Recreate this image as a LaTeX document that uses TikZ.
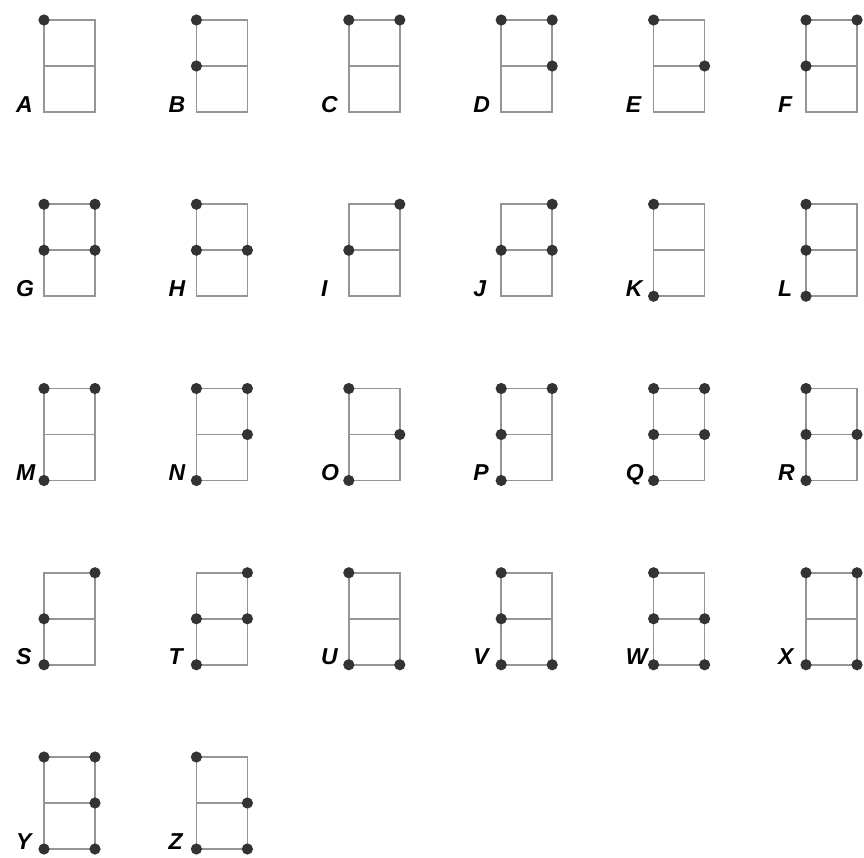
\documentclass[tikz,border=0pt]{standalone}
\usepackage{fontspec}
\setmainfont{Liberation Sans}
\definecolor{boxgray}{HTML}{959595}
\definecolor{dotgray}{HTML}{333333}
\tikzset{
  boxline/.style={draw=boxgray, line width=1.7pt},
  dotnode/.style={circle, fill=dotgray, inner sep=0pt, minimum size=11.2pt},
  lab/.style={font=\fontsize{23}{23}\selectfont\bfseries\itshape, text=black, inner sep=0pt, anchor=base west}
}
\newcommand\brcell[4]{%
  \pgfmathsetmacro\cx{44+152.4*#2}%
  \pgfmathsetmacro\cy{20+184.25*#3}%
  \coordinate (#1p1) at (\cx,\cy);
  \coordinate (#1p2) at (\cx,\cy+46);
  \coordinate (#1p3) at (\cx,\cy+92);
  \coordinate (#1p4) at (\cx+51,\cy);
  \coordinate (#1p5) at (\cx+51,\cy+46);
  \coordinate (#1p6) at (\cx+51,\cy+92);
  \draw[boxline] (#1p1) rectangle (#1p6);
  \draw[boxline] (#1p2) -- (#1p5);
  \foreach \k in {#4} {\node[dotnode] (#1d\k) at (#1p\k) {};}
  \node[lab] (#1lab) at (\cx-28,\cy+92) {#1};
}
\begin{document}
\begin{tikzpicture}[x=1pt,y=-1pt]
\useasboundingbox (0,0) rectangle (864,857);
\brcell{A}{0}{0}{1}
\brcell{B}{1}{0}{1,2}
\brcell{C}{2}{0}{1,4}
\brcell{D}{3}{0}{1,4,5}
\brcell{E}{4}{0}{1,5}
\brcell{F}{5}{0}{1,2,4}
\brcell{G}{0}{1}{1,2,4,5}
\brcell{H}{1}{1}{1,2,5}
\brcell{I}{2}{1}{2,4}
\brcell{J}{3}{1}{2,4,5}
\brcell{K}{4}{1}{1,3}
\brcell{L}{5}{1}{1,2,3}
\brcell{M}{0}{2}{1,3,4}
\brcell{N}{1}{2}{1,3,4,5}
\brcell{O}{2}{2}{1,3,5}
\brcell{P}{3}{2}{1,2,3,4}
\brcell{Q}{4}{2}{1,2,3,4,5}
\brcell{R}{5}{2}{1,2,3,5}
\brcell{S}{0}{3}{2,3,4}
\brcell{T}{1}{3}{2,3,4,5}
\brcell{U}{2}{3}{1,3,6}
\brcell{V}{3}{3}{1,2,3,6}
\brcell{W}{4}{3}{1,2,3,5,6}
\brcell{X}{5}{3}{1,3,4,6}
\brcell{Y}{0}{4}{1,3,4,5,6}
\brcell{Z}{1}{4}{1,3,5,6}
\end{tikzpicture}
\end{document}
